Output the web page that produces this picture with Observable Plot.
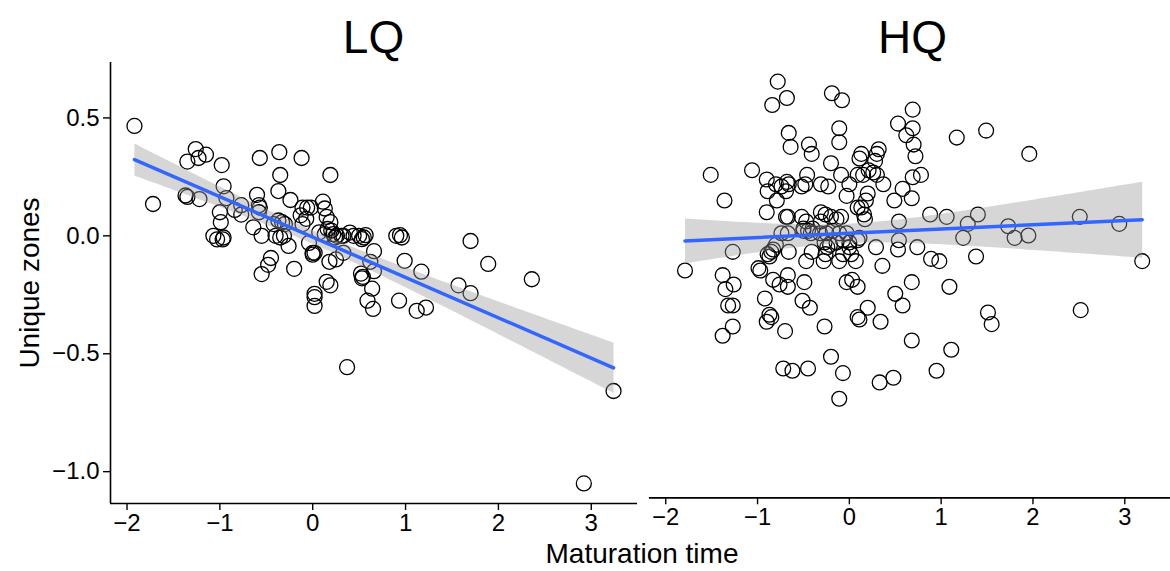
<!DOCTYPE html>
<html><head><meta charset="utf-8">
<script src="https://cdn.jsdelivr.net/npm/d3@7"></script>
<script src="https://cdn.jsdelivr.net/npm/@observablehq/plot@0.6"></script>
<style>
html,body{margin:0;padding:0;background:#fff;overflow:hidden}
#wrap{position:relative;width:1170px;height:571px;overflow:hidden;font-family:"Liberation Sans",Arial,sans-serif;color:#000}
.panel{position:absolute;top:0}
.title{position:absolute;top:12px;font-size:46px;line-height:50px;text-align:center;transform:translateX(-50%)}
#xlab{position:absolute;left:642px;top:538px;font-size:28px;line-height:32px;transform:translateX(-50%);white-space:nowrap}
#ylab{position:absolute;left:30px;top:283px;font-size:28px;line-height:32px;transform:translate(-50%,-50%) rotate(-90deg);white-space:nowrap}
</style></head>
<body><div id="wrap"></div>
<script>
const panelNames = ["LQ", "HQ"];
const xTicks = [-2, -1, 0, 1, 2, 3];
const yTicks = [0.5, 0.0, -0.5, -1.0];
const xLabel = "Maturation time";
const yLabel = "Unique zones";

const lqX = [-1.92,-1.72,-1.37,-1.35,-1.22,-1.35,-1.26,-1.23,-1.15,-0.98,-0.96,-0.93,-1.00,-0.99,-1.07,-1.03,-0.97,-0.96,-0.84,-0.77,-0.77,-0.64,-0.60,-0.58,-0.58,-0.57,-0.57,-0.55,-0.55,-0.48,-0.45,-0.36,-0.35,-0.37,-0.24,-0.42,-0.37,-0.33,-0.30,-0.40,-0.35,-0.31,-0.26,-0.20,-0.12,-0.11,-0.06,-0.02,-0.13,-0.07,-0.11,-0.04,0.00,0.02,0.00,0.02,0.02,0.02,0.11,0.13,0.15,0.19,0.07,0.13,0.16,0.19,0.20,0.22,0.24,0.26,0.31,0.33,0.18,0.25,0.33,0.15,0.19,0.40,0.44,0.50,0.53,0.55,0.57,0.37,0.52,0.54,0.53,0.59,0.65,0.64,0.62,0.66,0.66,0.90,0.94,0.96,0.99,0.93,1.12,1.22,1.17,1.57,1.70,1.70,1.89,2.36,3.24,2.92];
const lqY = [0.466,0.135,0.171,0.165,0.156,0.315,0.368,0.33,0.344,0.30,0.21,0.16,0.10,0.058,0.00,-0.015,-0.015,-0.007,0.11,0.13,0.09,0.036,0.174,0.13,0.10,0.12,0.33,0.00,-0.162,-0.123,-0.094,0.355,0.258,0.19,0.152,0.05,0.065,0.058,0.05,0.0,-0.007,0.0,-0.043,-0.14,0.33,0.12,0.12,0.12,0.087,0.072,0.05,-0.03,-0.072,-0.072,-0.08,-0.246,-0.26,-0.297,0.145,0.116,0.08,0.058,0.015,0.007,0.029,0.258,0.022,0.007,-0.007,0.0,0.0,0.0,-0.11,-0.10,-0.072,-0.195,-0.21,0.014,0.0,0.0,-0.014,-0.007,0.003,-0.557,-0.16,-0.174,-0.18,-0.275,-0.31,-0.224,-0.11,-0.065,-0.15,0.0,0.003,-0.007,-0.106,-0.275,-0.318,-0.304,-0.152,-0.21,-0.243,-0.022,-0.119,-0.184,-0.658,-1.05];

const hqX = [-0.78,-0.84,-0.68,-0.19,-0.08,0.69,0.53,0.69,0.62,0.70,
0.72,1.17,1.49,1.96,-0.66,-0.64,-0.11,-0.11,-0.44,-0.41,
-0.20,0.13,0.11,0.32,0.30,0.28,0.21,0.26,0.30,0.15,
0.09,0.00,-0.09,0.37,0.78,0.69,0.58,0.68,0.49,0.20,
0.18,0.13,0.16,0.17,-0.03,-1.51,-1.36,-1.06,-0.90,-0.89,
-0.80,-0.74,-0.68,-0.66,-0.69,-0.79,-0.90,-0.69,-0.67,-0.52,
-0.46,-0.52,-0.48,-0.31,-0.23,-0.31,-0.26,-0.20,-0.14,-0.09,
0.09,0.54,0.88,1.06,1.29,1.40,1.24,1.73,1.80,1.95,
2.51,2.94,3.19,2.52,1.38,1.09,1.51,1.55,1.11,0.95,
0.68,0.68,0.50,0.58,0.89,0.98,0.74,0.54,0.53,0.36,
0.29,0.34,0.20,0.09,0.11,0.48,0.33,-0.11,-0.07,-0.20,
-0.27,-0.45,-0.62,-0.72,-0.70,-0.51,-0.43,-0.49,-0.03,0.03,
0.09,-0.92,-0.87,-0.90,-0.85,-0.83,-0.76,-0.67,-0.67,-0.99,
-0.97,-1.38,-1.26,-1.35,-1.32,-1.27,-1.38,-1.27,-1.79,-1.27,
-0.87,-0.89,-0.83,-0.66,-0.47,-0.41,-0.28,-0.26,-0.24,-0.11,
-0.07,0.00,0.02,0.07,0.09,0.11,-0.74,-0.67,-0.50,-0.45,
-0.42,-0.40,-0.32,-0.25,-0.18,-0.11,-0.03,-0.27,-0.21,-0.14,
-0.07,0.00,-0.80,-0.85,-0.31,-0.47,-0.50];
const hqY = [0.65,0.55,0.58,0.60,0.57,0.53,0.47,0.45,0.42,0.38,
0.33,0.41,0.44,0.34,0.43,0.37,0.45,0.39,0.38,0.34,
0.30,0.34,0.32,0.36,0.34,0.31,0.27,0.26,0.25,0.25,
0.25,0.21,0.25,0.21,0.25,0.24,0.19,0.15,0.14,0.17,
0.14,0.11,0.08,0.06,0.16,0.25,0.14,0.27,0.23,0.18,
0.21,0.20,0.22,0.21,0.18,0.14,0.09,0.07,0.07,0.07,
0.25,0.20,0.21,0.21,0.20,0.09,0.08,0.07,0.06,0.07,
0.11,0.05,0.08,0.07,0.04,0.08,-0.02,0.03,-0.02,-0.01,
0.07,0.04,-0.12,-0.33,-0.10,-0.23,-0.34,-0.39,-0.50,-0.59,
-0.46,-0.21,-0.26,-0.31,-0.11,-0.12,-0.06,-0.03,-0.07,-0.14,
-0.06,-0.38,-0.32,-0.36,-0.37,-0.62,-0.64,-0.71,-0.60,-0.53,
-0.40,-0.58,-0.59,-0.58,-0.42,-0.29,-0.32,-0.21,-0.21,-0.20,
-0.23,-0.28,-0.35,-0.38,-0.36,-0.20,-0.22,-0.23,-0.18,-0.15,
-0.16,-0.18,-0.22,-0.24,-0.31,-0.31,-0.44,-0.40,-0.16,-0.08,
-0.10,-0.09,-0.07,-0.08,-0.12,-0.08,-0.12,-0.09,-0.06,-0.12,
-0.09,-0.06,-0.09,-0.12,-0.03,-0.02,0.00,0.00,0.01,0.01,
0.00,0.02,0.00,0.00,0.01,0.00,0.00,-0.04,-0.05,-0.04,
-0.03,-0.04,-0.05,-0.08,0.05,0.05,0.02];

const toRows = (xs, ys) => xs.map((x, i) => ({x, y: ys[i]}));
const lqData = toRows(lqX, lqY);
const hqData = toRows(hqX, hqY);

// shared scales, as in the faceted original (5% expansion of the data range)
const allX = lqX.concat(hqX), allY = lqY.concat(hqY);
const pad = (e) => { const r = e[1] - e[0]; return [e[0] - 0.05 * r, e[1] + 0.05 * r]; };
const xDomain = pad(d3.extent(allX));
const yDomain = pad(d3.extent(allY));

const PLOT_W = 527, H = 545, MT = 62, MB = 42;
const wrap = document.getElementById("wrap");

function makePanel(data, name, left, marginLeft, showY) {
  const marks = [
    Plot.dot(data, {x: "x", y: "y", r: 7.5, stroke: "black", strokeWidth: 1.3, fill: "none"}),
    Plot.linearRegressionY(data, {x: "x", y: "y", stroke: "#3366FF", strokeWidth: 3.5, fill: "#999999", fillOpacity: 0.4, ci: 0.95}),
    Plot.ruleY([yDomain[0]], {stroke: "black", strokeWidth: 1.6}),
    Plot.axisX({ticks: xTicks, tickFormat: d3.format("d"), tickSize: 7, tickPadding: 3, fontSize: 24, strokeWidth: 1.4, label: null})
  ];
  if (showY) {
    marks.push(Plot.ruleX([xDomain[0]], {stroke: "black", strokeWidth: 1.6}));
    marks.push(Plot.axisY({ticks: yTicks, tickFormat: d3.format(".1f"), tickSize: 7, tickPadding: 4, fontSize: 24, strokeWidth: 1.4, label: null}));
  }
  const yScale = {domain: yDomain, label: null};
  if (!showY) yScale.axis = null;
  const svg = Plot.plot({
    width: marginLeft + PLOT_W, height: H,
    marginLeft, marginRight: 0, marginTop: MT, marginBottom: MB,
    style: {fontFamily: "'Liberation Sans', Arial, sans-serif", color: "black", background: "white", overflow: "visible"},
    x: {domain: xDomain, label: null},
    y: yScale,
    marks
  });
  const div = document.createElement("div");
  div.className = "panel";
  div.style.left = left + "px";
  div.appendChild(svg);
  wrap.appendChild(div);
  const t = document.createElement("div");
  t.className = "title";
  t.textContent = name;
  t.style.left = (left + marginLeft + PLOT_W / 2) + "px";
  wrap.appendChild(t);
}

makePanel(lqData, panelNames[0], 0, 110, true);
makePanel(hqData, panelNames[1], 640, 9, false);

const xl = document.createElement("div"); xl.id = "xlab"; xl.textContent = xLabel; wrap.appendChild(xl);
const yl = document.createElement("div"); yl.id = "ylab"; yl.textContent = yLabel; wrap.appendChild(yl);
</script>
</body></html>
